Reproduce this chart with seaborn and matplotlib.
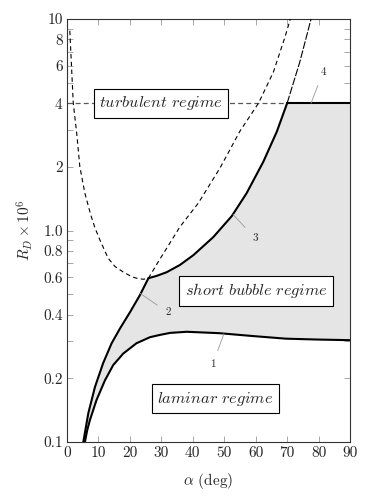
import numpy as np
import pandas as pd
import matplotlib
matplotlib.use("Agg")
import matplotlib.pyplot as plt
import matplotlib.ticker as mticker
import seaborn as sns

# boundary 1: laminar / short bubble
alpha_1 = [5.7, 6.4, 7.3, 9.4, 12.1, 14.7, 17.9, 22.1, 26.4, 29.6, 32.8, 38.1,
           48.4, 59.0, 69.6, 80.0, 90.0]
rd_1 = [0.1, 0.113, 0.127, 0.158, 0.196, 0.231, 0.262, 0.293, 0.313, 0.321, 0.328, 0.332,
        0.327, 0.317, 0.308, 0.305, 0.303]

# boundary 2: left edge of short bubble region up to the cusp
alpha_2 = [5.2, 6.8, 8.9, 11.5, 14.2, 16.9, 20.0, 23.2, 25.9]
rd_2 = [0.1, 0.137, 0.182, 0.236, 0.293, 0.345, 0.41, 0.495, 0.595]

# boundary 3: cusp up to R_D = 4
alpha_3 = [25.9, 28.5, 31.7, 35.9, 40.2, 46.5, 52.4, 57.1, 62.4, 66.7, 70.0]
rd_3 = [0.595, 0.61, 0.635, 0.687, 0.765, 0.93, 1.17, 1.50, 2.11, 2.93, 4.0]

# continuation of boundary 3 above R_D = 4
alpha_3b = [70.0, 72.0, 73.9, 75.8, 77.6]
rd_3b = [4.0, 5.0, 6.17, 7.9, 10.0]

# boundary 4: constant R_D = 4
alpha_4 = [70.0, 90.0]
rd_4 = [4.0, 4.0]

# dashed U-shaped curve
alpha_u = [0.9, 1.0, 2.0, 3.1, 4.1, 5.7, 7.6, 8.9, 10.5, 13.1, 15.3, 17.9, 20.6, 22.1, 24.3,
           25.9, 29.0, 35.9, 41.8, 48.7, 55.0, 60.9, 65.6, 69.3, 71.0]
rd_u = [8.8, 8.25, 4.0, 2.88, 2.0, 1.5, 1.18, 1.03, 0.90, 0.739, 0.675, 0.636, 0.605, 0.595, 0.588,
        0.595, 0.71, 1.04, 1.35, 1.98, 2.95, 4.0, 5.6, 8.2, 10.0]

# dashed horizontal at R_D = 4
alpha_h = [0.0, 70.0]
rd_h = [4.0, 4.0]

yticks_major = [0.1, 0.2, 0.4, 0.6, 0.8, 1.0, 2, 4, 6, 8, 10]
ytick_labels = ["0.1", "0.2", "0.4", "0.6", "0.8", "1.0", "2", "4", "6", "8", "10"]
yticks_minor = [0.3, 0.5, 0.7, 0.9, 3, 5, 7, 9]
xticks = [0, 10, 20, 30, 40, 50, 60, 70, 80, 90]

sns.set_style("ticks")
plt.rcParams["font.family"] = ["cmr10", "DejaVu Serif"]
plt.rcParams["mathtext.fontset"] = "cm"
plt.rcParams["axes.unicode_minus"] = False

fig = plt.figure(figsize=(3.72, 5.0), dpi=100)
ax = fig.add_axes([0.180, 0.116, 0.761, 0.846])

# shaded short bubble region
poly_x = alpha_2 + alpha_3[1:] + [90.0] + alpha_1[::-1]
poly_y = rd_2 + rd_3[1:] + [4.0] + rd_1[::-1]
ax.fill(poly_x, poly_y, color="#e5e5e5", lw=0, zorder=1)

def curve(x, y, **kw):
    df = pd.DataFrame({"alpha": x, "rd": y})
    sns.lineplot(data=df, x="alpha", y="rd", sort=False, estimator=None, ax=ax, **kw)

curve(alpha_h, rd_h, color="0.35", lw=0.9, dashes=(4, 2.5), zorder=2)
curve(alpha_u, rd_u, color="black", lw=0.8, dashes=(4, 3), zorder=3)
curve(alpha_3b, rd_3b, color="black", lw=0.8, dashes=(7, 1.5), zorder=3)
for xs, ys in [(alpha_1, rd_1), (alpha_2, rd_2), (alpha_3, rd_3), (alpha_4, rd_4)]:
    curve(xs, ys, color="black", lw=1.5, zorder=4)

ax.set_yscale("log")
ax.set_xlim(0, 90)
ax.set_ylim(0.1, 10)
ax.yaxis.set_major_locator(mticker.FixedLocator(yticks_major))
ax.yaxis.set_major_formatter(mticker.FixedFormatter(ytick_labels))
ax.yaxis.set_minor_locator(mticker.FixedLocator(yticks_minor))
ax.yaxis.set_minor_formatter(mticker.NullFormatter())
ax.set_xticks(xticks)
ax.set_xticklabels([str(t) for t in xticks])
ax.tick_params(which="both", direction="in", top=True, right=True, color="0.6",
               labelsize=11, pad=3)
ax.tick_params(which="major", length=4.5, width=0.6)
ax.tick_params(which="minor", length=4.5, width=0.6)
for s in ax.spines.values():
    s.set_linewidth(0.8)
    s.set_color("0.2")

ax.set_xlabel(r"$\alpha$ (deg)", fontsize=11, labelpad=8)
ax.set_ylabel(r"$R_D \times 10^6$", fontsize=11, labelpad=6)

box = dict(boxstyle="square,pad=0.33", fc="white", ec="black", lw=0.8)
ax.text(29.9, 4.0, r"$\mathit{turbulent\ regime}$", fontsize=11.8, ha="center", va="center", bbox=box, zorder=6)
ax.text(60.1, 0.518, r"$\mathit{short\ bubble\ regime}$", fontsize=11.8, ha="center", va="center", bbox=box, zorder=6)
ax.text(47.1, 0.16, r"$\mathit{laminar\ regime}$", fontsize=11.8, ha="center", va="center", bbox=box, zorder=6)

# curve number callouts
callouts = [("1", (49.9, 0.325), (46.4, 0.234)),
            ("2", (23.2, 0.505), (32.1, 0.41)),
            ("3", (52.8, 1.19), (59.8, 0.92)),
            ("4", (77.6, 4.0), (81.4, 5.6))]
for lab, xy, xytext in callouts:
    ax.annotate(lab, xy=xy, xytext=xytext, fontsize=8, ha="center", va="center",
                arrowprops=dict(arrowstyle="-", color="0.6", lw=0.6, shrinkA=4, shrinkB=0),
                zorder=5)

plt.savefig("out.png", dpi=100)
